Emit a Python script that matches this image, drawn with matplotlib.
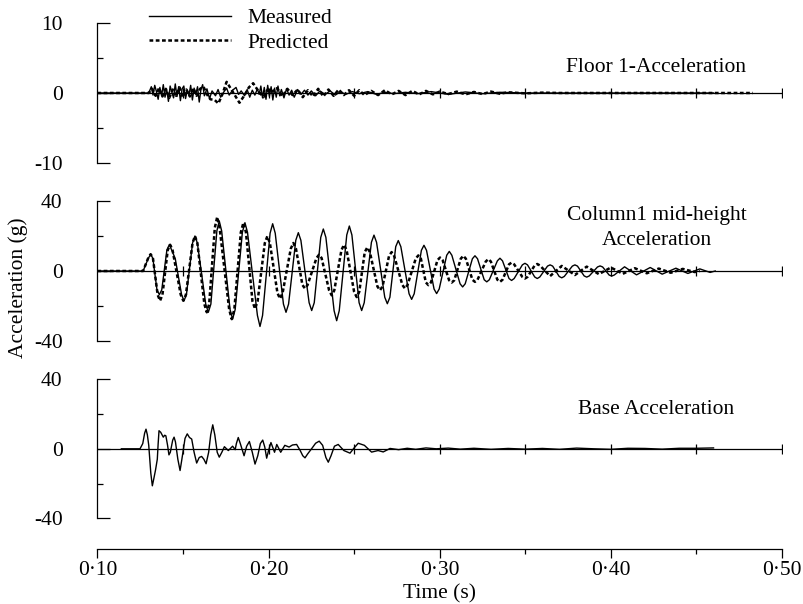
import numpy as np
import matplotlib
matplotlib.use("Agg")
import matplotlib.pyplot as plt
from matplotlib.ticker import FixedLocator, FixedFormatter

plt.rcParams["font.family"] = ["Liberation Serif", "DejaVu Serif"]
plt.rcParams["axes.unicode_minus"] = False

# ---- data (time in s, acceleration in g) ----
top_meas_t = [0.100, 0.130, 0.1315, 0.1325, 0.1335, 0.1345, 0.1355, 0.1365, 0.1375, 0.1385,
              0.1395, 0.1405, 0.1415, 0.1425, 0.1435, 0.1445, 0.1455, 0.1465, 0.1475, 0.1485,
              0.1495, 0.1505, 0.1515, 0.1525, 0.1535, 0.1545, 0.1555, 0.1565, 0.1575, 0.1585,
              0.1595, 0.1605, 0.1615, 0.1625, 0.1640, 0.1655, 0.1670, 0.1690, 0.1705, 0.1720,
              0.1740, 0.1755, 0.1770, 0.1790, 0.1810, 0.1825, 0.1840, 0.1860, 0.1875, 0.1890,
              0.1905, 0.1920, 0.1935, 0.1945, 0.1955, 0.1965, 0.1975, 0.1985, 0.1995, 0.2005,
              0.2015, 0.2025, 0.2035, 0.2045, 0.2055, 0.2065, 0.2075, 0.2090, 0.2105, 0.2120,
              0.2135, 0.2150, 0.2170, 0.2190, 0.2210, 0.2230, 0.2250, 0.2275, 0.2300, 0.2330,
              0.2360, 0.2390, 0.2420, 0.2450, 0.2490, 0.2530, 0.2580, 0.2630, 0.2680, 0.2730,
              0.2800, 0.2870, 0.2950, 0.3050, 0.3150, 0.3250, 0.3350, 0.3500, 0.4600]
top_meas_v = [0, 0, 0.9, -0.3, 1.1, 0.2, -0.9, 0.8, -0.4, 1.2,
              -0.6, 0.5, -1.2, 1.0, 0.1, -0.7, 1.3, -0.5, 0.9, -1.1,
              0.6, 1.0, -0.8, 0.4, -0.3, 1.1, -1.0, 0.7, -0.2, 0.9,
              -1.3, 0.5, 1.2, -0.4, 0.6, -0.8, 0.3, -0.4, 0.5, -0.6,
              0.2, 0.7, -0.3, 0.4, 0.8, -0.2, 0.3, -0.4, 0.5, -0.6,
              0.4, -0.3, 0.6, -0.2, 1.0, -0.7, 0.8, -0.9, 1.1, -0.5,
              0.9, -1.0, 0.7, -0.6, 1.0, -0.4, 0.5, -0.7, 0.6, -0.3,
              0.4, -0.6, 0.5, -0.2, 0.4, -0.3, 0.3, -0.4, 0.3, -0.2,
              0.3, -0.3, 0.2, -0.2, 0.2, -0.1, 0.2, -0.2, 0.1, -0.1,
              0.1, -0.1, 0.2, -0.2, 0.15, -0.1, 0.1, 0, 0]

top_pred_t = [0.100, 0.130, 0.132, 0.134, 0.136, 0.138, 0.140, 0.142, 0.144, 0.146,
              0.148, 0.150, 0.152, 0.154, 0.156, 0.158, 0.160, 0.162, 0.164, 0.166,
              0.1685, 0.1707, 0.1730, 0.1755, 0.1780, 0.1805, 0.1830, 0.1860, 0.1885, 0.1910,
              0.1940, 0.1970, 0.1995, 0.2020, 0.2050, 0.2080, 0.2110, 0.2140, 0.2170, 0.2200,
              0.2230, 0.2260, 0.2290, 0.2320, 0.2350, 0.2380, 0.2410, 0.2440, 0.2470, 0.2500,
              0.2530, 0.2560, 0.2600, 0.2640, 0.2680, 0.2720, 0.2760, 0.2800, 0.2840, 0.2880,
              0.2920, 0.2960, 0.3000, 0.305, 0.310, 0.315, 0.320, 0.325, 0.330, 0.335,
              0.340, 0.350, 0.360, 0.370, 0.483]
top_pred_v = [0, 0, 0.6, -0.4, 0.7, -0.5, 0.6, -0.7, 0.5, -0.4,
              0.8, -0.6, 0.5, -0.5, 0.7, -0.4, 0.6, 0.9, -0.2, -0.9,
              -1.0, -1.5, -0.2, 1.6, 0.6, -0.4, -1.4, -0.3, 0.8, 1.4,
              0.3, -0.6, 0.5, 0.2, 0.7, -0.5, 0.6, -0.3, 0.5, -0.6,
              0.4, -0.5, 0.6, -0.5, 0.5, -0.4, 0.5, -0.3, 0.4, -0.4,
              0.4, -0.3, 0.3, -0.3, 0.4, -0.2, 0.3, -0.3, 0.3, -0.2,
              0.3, -0.2, 0.2, -0.15, 0.2, -0.2, 0.15, -0.15, 0.2, -0.1,
              0.1, -0.05, 0.05, 0, 0]

mid_meas_t = [0.100, 0.1267,
              0.1298, 0.1311, 0.1324, 0.1348, 0.1362, 0.1376, 0.1406, 0.1420, 0.1434, 0.1455,
              0.1492, 0.1506, 0.1520, 0.1556, 0.1570, 0.1584, 0.1633, 0.1648, 0.1663,
              0.1698, 0.1712, 0.1726, 0.1775, 0.1790, 0.1805, 0.1847, 0.1862, 0.1877,
              0.1935, 0.1950, 0.1965, 0.2009, 0.2024, 0.2039, 0.2087, 0.2102, 0.2117,
              0.2159, 0.2174, 0.2189, 0.2237, 0.2252, 0.2267, 0.2305, 0.2320, 0.2335,
              0.2383, 0.2398, 0.2413, 0.2457, 0.2472, 0.2487, 0.2529, 0.2544, 0.2559,
              0.2601, 0.2616, 0.2631, 0.2679, 0.2694, 0.2709, 0.2743, 0.2758, 0.2773,
              0.2821, 0.2836, 0.2851, 0.2893, 0.2908, 0.2923, 0.2967, 0.2982, 0.2997,
              0.3041, 0.3056, 0.3071, 0.3119, 0.3134, 0.3149, 0.3191, 0.3206, 0.3221,
              0.3260, 0.3275, 0.3290, 0.3337, 0.3352, 0.3367, 0.3405, 0.3420, 0.3435,
              0.3483, 0.3498, 0.3513, 0.3555, 0.3570, 0.3585, 0.3630, 0.3645, 0.3660,
              0.3698, 0.3713, 0.3728, 0.3775, 0.3790, 0.3805, 0.3844, 0.3859, 0.3874,
              0.3922, 0.3937, 0.3952, 0.3990, 0.4005, 0.4020,
              0.408, 0.415, 0.423, 0.430, 0.438, 0.445, 0.452, 0.458, 0.461]
mid_meas_v = [0, 0,
              7.4, 9.3, 7.4, -10.8, -13.5, -10.8, 12.0, 15.0, 12.0, 7.0,
              -13.6, -17.0, -13.6, 16.0, 20.0, 16.0, -18.9, -23.6, -18.9,
              22.9, 28.6, 22.9, -22.0, -27.5, -22.0, 22.1, 27.6, 22.1,
              -25.4, -31.7, -25.4, 21.6, 27.0, 21.6, -18.9, -23.6, -18.9,
              17.5, 21.9, 17.5, -18.1, -22.6, -18.1, 19.2, 24.0, 19.2,
              -22.7, -28.4, -22.7, 20.6, 25.7, 20.6, -18.1, -22.6, -18.1,
              16.4, 20.5, 16.4, -15.0, -18.7, -15.0, 13.9, 17.4, 13.9,
              -13.0, -16.2, -13.0, 11.8, 14.7, 11.8, -10.3, -12.9, -10.3,
              9.0, 11.2, 9.0, -7.3, -9.1, -7.3, 7.0, 8.7, 7.0,
              -5.0, -6.2, -5.0, 5.8, 7.3, 5.8, -4.3, -5.4, -4.3,
              3.5, 4.4, 3.5, -3.4, -4.3, -3.4, 2.8, 3.5, 2.8,
              -3.1, -3.9, -3.1, 2.8, 3.5, 2.8, -2.8, -3.5, -2.8,
              2.3, 2.9, 2.3, -2.3, -2.9, -2.3,
              2.4, -2.2, 2.0, -1.8, 1.6, -1.4, 1.2, -0.8, 0]

mid_pred_t = [0.100, 0.1267,
              0.1298, 0.1311, 0.1324, 0.1352, 0.1366, 0.1380, 0.1411, 0.1425, 0.1439,
              0.1487, 0.1502, 0.1517, 0.1556, 0.1570, 0.1584, 0.1625, 0.1639, 0.1653,
              0.1686, 0.1700, 0.1714, 0.1770, 0.1785, 0.1800, 0.1838, 0.1853, 0.1868,
              0.1906, 0.1921, 0.1936, 0.1978, 0.1993, 0.2008, 0.2052, 0.2067, 0.2082,
              0.2130, 0.2145, 0.2160, 0.2198, 0.2213, 0.2228, 0.2280, 0.2295, 0.2310,
              0.2354, 0.2369, 0.2384, 0.2426, 0.2441, 0.2456, 0.2500, 0.2515, 0.2530,
              0.2562, 0.2577, 0.2592, 0.2636, 0.2651, 0.2666, 0.2704, 0.2719, 0.2734,
              0.2782, 0.2797, 0.2812, 0.2860, 0.2875, 0.2890, 0.2919, 0.2934, 0.2949,
              0.2987, 0.3002, 0.3017, 0.3055, 0.3070, 0.3085, 0.3123, 0.3138, 0.3153,
              0.3191, 0.3206, 0.3221, 0.3269, 0.3284, 0.3299, 0.3337, 0.3352, 0.3367,
              0.3405, 0.3420, 0.3435, 0.3483, 0.3498, 0.3513, 0.3555, 0.3570, 0.3585,
              0.3645, 0.3713, 0.3790, 0.3859, 0.393, 0.400, 0.407, 0.414, 0.421,
              0.428, 0.435, 0.442, 0.449, 0.452]
mid_pred_v = [0, 0,
              7.7, 9.6, 7.7, -13.6, -17.0, -13.6, 12.0, 15.0, 12.0,
              -13.6, -17.0, -13.6, 16.0, 20.0, 16.0, -18.9, -23.6, -18.9,
              24.7, 30.9, 24.7, -22.0, -27.5, -22.0, 22.1, 27.6, 22.1,
              -17.3, -21.6, -17.3, 15.9, 19.9, 15.9, -12.6, -15.8, -12.6,
              12.8, 16.0, 12.8, -8.0, -10.0, -8.0, 7.4, 9.3, 7.4,
              -11.1, -13.9, -11.1, 12.0, 15.0, 12.0, -11.9, -14.9, -11.9,
              10.8, 13.5, 10.8, -8.8, -11.0, -8.8, 8.6, 10.8, 8.6,
              -8.0, -10.0, -8.0, 7.1, 8.9, 7.1, -6.5, -8.1, -6.5,
              6.2, 7.7, 6.2, -5.3, -6.6, -5.3, 7.0, 8.7, 7.0,
              -5.0, -6.2, -5.0, 5.4, 6.8, 5.4, -5.0, -6.2, -5.0,
              3.8, 4.8, 3.8, -3.4, -4.3, -3.4, 3.2, 4.0, 3.2,
              -2.9, 2.9, -2.3, 2.5, -1.8, 2.0, -1.6, 1.6, -1.3,
              1.4, -1.0, 1.2, -0.6, 0]

base_t = [0.114, 0.1249, 0.1265, 0.1276, 0.1284, 0.1292, 0.1300, 0.1312, 0.1321, 0.1330,
          0.1340, 0.1350, 0.1355, 0.1360, 0.1370, 0.1385, 0.1393, 0.1400, 0.1410, 0.1418,
          0.1426, 0.1440, 0.1448, 0.1456, 0.1470, 0.1483, 0.1492, 0.1502, 0.1512, 0.1525,
          0.1538, 0.1551, 0.1565, 0.1580, 0.1595, 0.1609, 0.1622, 0.1635, 0.1650, 0.1662,
          0.1674, 0.1686, 0.1700, 0.1712, 0.1727, 0.1742, 0.1765, 0.1790, 0.1805, 0.1812,
          0.1823, 0.1835, 0.1857, 0.1872, 0.1888, 0.1905, 0.1921, 0.1937, 0.1952, 0.1966,
          0.1978, 0.1989, 0.2000, 0.2014, 0.2035, 0.2048, 0.2071, 0.2095, 0.2120, 0.2140,
          0.2164, 0.2185, 0.2200, 0.2213, 0.2228, 0.2255, 0.2275, 0.2296, 0.2316, 0.2335,
          0.2349, 0.2365, 0.2385, 0.2407, 0.2440, 0.2476, 0.2500, 0.2524, 0.2560, 0.2602,
          0.2640, 0.2670, 0.2710, 0.2760, 0.2810, 0.2860, 0.2920, 0.2980, 0.3050, 0.3120,
          0.3200, 0.3300, 0.3400, 0.3500, 0.3600, 0.3700, 0.3800, 0.3900, 0.4000, 0.4100,
          0.4200, 0.4300, 0.4400, 0.4500, 0.4600]
base_v = [0, 0, 3.0, 9.0, 11.3, 8.0, 2.0, -14.0, -21.3, -17.0,
          -12.0, -6.0, 3.0, 10.4, 9.5, 6.7, 7.8, 7.5, 2.0, -3.5,
          -2.0, 5.0, 6.7, 4.0, -6.0, -12.5, -7.0, -0.6, 6.0, 8.6,
          6.5, 5.6, -2.0, -8.2, -5.0, -4.4, -6.0, -8.6, -2.0, 8.0,
          13.8, 8.0, -2.0, -4.8, -2.0, 1.2, -1.0, 1.5, -0.5, 3.0,
          6.5, 3.0, -4.0, 1.5, 4.2, -2.0, -8.8, -4.0, 3.0, 5.0,
          1.0, -5.4, -1.0, 3.6, -2.0, 2.5, -2.0, 2.0, 1.0, 2.2,
          2.5, -1.0, -4.0, -5.2, -3.0, 0.5, 3.2, 4.4, 2.0, -5.0,
          -7.7, -4.0, 1.5, 2.5, -1.0, -2.5, 0.5, 3.2, 2.0, -1.9,
          -1.0, -1.8, 0.2, -0.5, 0.3, -0.3, 0.5, 0.0, 0.4, -0.2,
          0.3, -0.3, 0.2, -0.2, 0.2, -0.3, 0.4, 0.0, -0.3, 0.3,
          0.2, -0.2, 0.3, 0.3, 0.5]

x_major = [0.10, 0.20, 0.30, 0.40, 0.50]
x_major_labels = ["0\u00b710", "0\u00b720", "0\u00b730", "0\u00b740", "0\u00b750"]
x_minor = [0.15, 0.25, 0.35, 0.45]
zero_ticks = [0.15, 0.20, 0.25, 0.30, 0.35, 0.40, 0.45, 0.50]

panels = [
    # (measured t, v, predicted t, v, ylim, labelled ticks, labels, minor ticks)
    (top_meas_t, top_meas_v, top_pred_t, top_pred_v, 10, [-10, 0, 10], ["-10", "0", "10"], [-5, 5]),
    (mid_meas_t, mid_meas_v, mid_pred_t, mid_pred_v, 40, [-40, 0, 40], ["-40", "0", "40"], [-20, 20]),
    (base_t, base_v, None, None, 40, [-40, 0, 40], ["-40", "0", "40"], [-20, 20]),
]

W, H = 804, 604
fig = plt.figure(figsize=(W / 100, H / 100), dpi=100)
left, width = 97.4 / W, 684.6 / W
boxes = [(23.3, 162.7), (201.0, 341.0), (379.3, 518.3)]

dot_style = (0, (1.5, 1.0))
FS = 15.5

axes = []
for (mt, mv, pt, pv, ylim, yt, ylab, ymin), (top_px, bot_px) in zip(panels, boxes):
    ax = fig.add_axes([left, 1 - bot_px / H, width, (bot_px - top_px) / H])
    ax.set_xlim(0.10, 0.50)
    ax.set_ylim(-ylim, ylim)
    for s in ["top", "right", "bottom"]:
        ax.spines[s].set_visible(False)
    ax.spines["left"].set_linewidth(0.9)
    ax.axhline(0, color="black", lw=0.9, zorder=1)
    ax.plot(zero_ticks, [0] * len(zero_ticks), ls="none", marker="|",
            ms=7, mew=0.9, color="black", zorder=1)
    ax.plot(mt, mv, color="black", lw=1.0, zorder=3)
    if pt is not None:
        ax.plot(pt, pv, color="black", lw=1.8, ls=dot_style, zorder=2)
    ax.yaxis.set_major_locator(FixedLocator(yt))
    ax.yaxis.set_major_formatter(FixedFormatter(ylab))
    ax.yaxis.set_minor_locator(FixedLocator(ymin))
    ax.tick_params(axis="y", which="major", direction="in", length=9.5, width=0.9,
                   pad=25, labelsize=FS)
    ax.tick_params(axis="y", which="minor", direction="in", length=4.5, width=0.9)
    ax.set_xticks([])
    ax.patch.set_alpha(0)
    axes.append(ax)

# bottom time axis, detached below the last panel
axb = axes[-1]
axb.spines["bottom"].set_visible(True)
axb.spines["bottom"].set_linewidth(0.9)
axb.spines["bottom"].set_position(("outward", 22))
axb.xaxis.set_major_locator(FixedLocator(x_major))
axb.xaxis.set_major_formatter(FixedFormatter(x_major_labels))
axb.xaxis.set_minor_locator(FixedLocator(x_minor))
axb.tick_params(axis="x", which="major", direction="out", length=6.5, width=0.9,
                pad=2, labelsize=FS)
axb.tick_params(axis="x", which="minor", direction="out", length=3.5, width=0.9)
axb.set_xlabel("Time (s)", fontsize=FS, labelpad=3)

fig.text(18 / W, 1 - 288 / H, "Acceleration (g)", rotation=90, fontsize=FS,
         ha="center", va="center")

fig.text(656 / W, 1 - 68 / H, "Floor 1-Acceleration", fontsize=FS, ha="center", va="center")
fig.text(657 / W, 1 - 228 / H, "Column1 mid-height\nAcceleration", fontsize=FS,
         ha="center", va="center", linespacing=1.45)
fig.text(656 / W, 1 - 410 / H, "Base Acceleration", fontsize=FS, ha="center", va="center")

h_meas, = axes[0].plot([], [], color="black", lw=1.0)
h_pred, = axes[0].plot([], [], color="black", lw=1.8, ls=dot_style)
fig.legend([h_meas, h_pred], ["Measured", "Predicted"], loc="upper left",
           bbox_to_anchor=(149 / W, 1 - 8 / H), frameon=False, fontsize=FS,
           handlelength=3.8, handletextpad=0.75, labelspacing=0.22,
           borderpad=0, borderaxespad=0)

fig.savefig("out.png", dpi=100)
